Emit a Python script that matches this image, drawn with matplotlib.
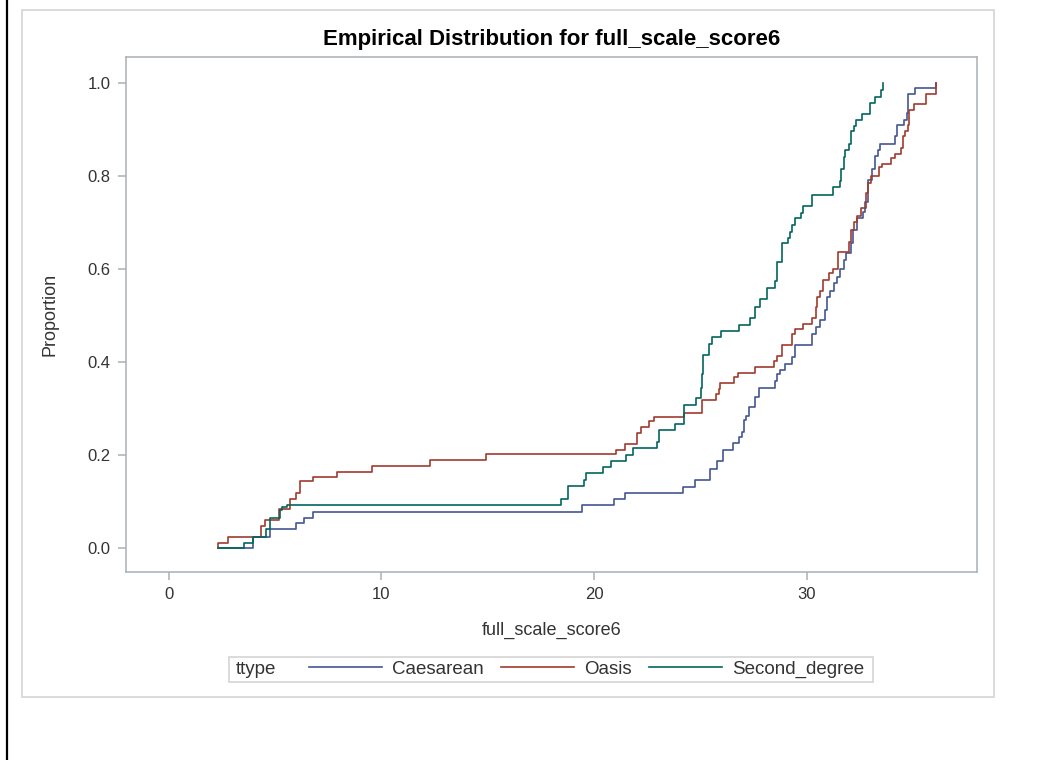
import matplotlib
matplotlib.use("Agg")
import matplotlib.pyplot as plt
from matplotlib.lines import Line2D
from matplotlib.patches import Rectangle

FONT = "Liberation Sans"
FONT_SIZE = 12
LEGEND_SIZE = 13.5

# step points (x, proportion after the step)
caes_x = [2.32, 3.97, 4.78, 6.01, 6.37, 6.79, 19.45, 20.94, 21.46, 24.2, 24.75, 25.46,
          25.77, 26.05, 26.53, 26.79, 26.95, 27.03, 27.15, 27.26, 27.58, 27.73, 28.52,
          28.6, 28.75, 28.99, 29.3, 29.46, 30.24, 30.45, 30.64, 30.87, 30.95, 31.1, 31.26,
          31.42, 31.55, 31.73, 31.86, 32.09, 32.17, 32.36, 32.63, 32.75, 32.9, 33.07,
          33.22, 33.33, 33.46, 34.13, 34.24, 34.59, 34.71, 34.78, 35.1, 36.05]
caes_y = [0.0, 0.024, 0.041, 0.053, 0.065, 0.078, 0.092, 0.105, 0.118, 0.13, 0.146, 0.169,
          0.186, 0.211, 0.225, 0.239, 0.25, 0.275, 0.283, 0.304, 0.325, 0.343, 0.358,
          0.374, 0.383, 0.396, 0.41, 0.437, 0.46, 0.475, 0.49, 0.512, 0.54, 0.553, 0.569,
          0.582, 0.6, 0.619, 0.635, 0.655, 0.684, 0.709, 0.723, 0.745, 0.791, 0.814,
          0.843, 0.856, 0.869, 0.885, 0.91, 0.92, 0.936, 0.976, 0.989, 1.0]

oasis_x = [2.32, 2.32, 2.79, 4.33, 4.55, 5.19, 5.69, 5.98, 6.2, 6.79, 7.92, 9.57, 12.28,
           14.92, 21.02, 21.44, 22.0, 22.2, 22.6, 22.8, 24.25, 25.07, 25.74, 25.85, 25.93,
           26.6, 26.76, 27.58, 28.44, 28.6, 28.83, 29.3, 29.46, 29.82, 30.24, 30.45, 30.5,
           30.64, 30.76, 31.03, 31.23, 31.45, 31.97, 32.09, 32.2, 32.36, 32.56, 32.8, 32.9,
           33.04, 33.38, 33.54, 33.96, 34.13, 34.43, 34.53, 34.6, 34.76, 34.82, 35.03,
           35.61, 36.05]
oasis_y = [0.0, 0.011, 0.023, 0.047, 0.06, 0.083, 0.105, 0.119, 0.143, 0.152, 0.164, 0.177,
           0.189, 0.202, 0.211, 0.224, 0.248, 0.261, 0.272, 0.282, 0.291, 0.318, 0.331,
           0.341, 0.354, 0.367, 0.377, 0.39, 0.401, 0.413, 0.437, 0.46, 0.47, 0.482, 0.494,
           0.519, 0.54, 0.553, 0.576, 0.591, 0.6, 0.636, 0.659, 0.684, 0.702, 0.713, 0.731,
           0.763, 0.784, 0.8, 0.82, 0.826, 0.838, 0.847, 0.86, 0.885, 0.896, 0.91, 0.942,
           0.955, 0.976, 1.0]

second_x = [2.32, 3.55, 3.97, 4.56, 4.78, 5.22, 5.35, 5.57, 18.43, 18.79, 19.54, 19.6,
            20.44, 20.8, 21.51, 21.82, 22.95, 23.03, 23.81, 24.25, 24.8, 25.02, 25.06,
            25.13, 25.38, 25.54, 25.98, 26.82, 27.31, 27.58, 27.81, 28.13, 28.52, 28.6,
            28.83, 29.1, 29.22, 29.3, 29.44, 29.73, 29.8, 30.24, 31.23, 31.54, 31.62,
            31.73, 31.81, 31.97, 32.08, 32.2, 32.33, 32.6, 32.96, 33.22, 33.49, 33.58]
second_y = [0.0, 0.011, 0.024, 0.04, 0.064, 0.082, 0.088, 0.092, 0.105, 0.133, 0.146, 0.161,
            0.174, 0.186, 0.2, 0.214, 0.227, 0.254, 0.267, 0.308, 0.322, 0.343, 0.374,
            0.415, 0.439, 0.454, 0.467, 0.48, 0.495, 0.519, 0.535, 0.558, 0.573, 0.616,
            0.655, 0.666, 0.68, 0.695, 0.709, 0.72, 0.735, 0.759, 0.777, 0.789, 0.814,
            0.84, 0.856, 0.869, 0.896, 0.907, 0.92, 0.933, 0.956, 0.97, 0.985, 1.0]

series = [
    ("Caesarean", caes_x, caes_y, "#445694"),
    ("Oasis", oasis_x, oasis_y, "#A23A2E"),
    ("Second_degree", second_x, second_y, "#01665E"),
]
x_ticks = [0, 10, 20, 30]
y_ticks = [0.0, 0.2, 0.4, 0.6, 0.8, 1.0]

W, H = 1043, 760
fig = plt.figure(figsize=(W / 100, H / 100), dpi=100)
plt.rcParams["font.family"] = [FONT, "DejaVu Sans"]

# page decorations
fig.add_artist(Line2D([7 / W, 7 / W], [0, 1], color="black", lw=1.6))
fig.add_artist(Rectangle((22 / W, 1 - 697 / H), 972 / W, 687 / H, transform=fig.transFigure,
                         fill=False, edgecolor="#d4d4d4", lw=1.2))

ax = fig.add_axes([126 / W, 1 - 572 / H, 851 / W, 515 / H])
for name, xs, ys, c in series:
    ax.step(xs, ys, where="post", color=c, lw=1.2, label=name)

ax.set_xlim(-2.0, 38.0)
ax.set_ylim(-0.052, 1.056)
ax.set_xticks(x_ticks)
ax.set_yticks(y_ticks)
ax.set_yticklabels([f"{v:.1f}" for v in y_ticks])
for s in ax.spines.values():
    s.set_color("#aab0b5")
    s.set_linewidth(1.1)
ax.tick_params(length=6, width=1.1, color="#aab0b5", labelsize=FONT_SIZE,
               labelcolor="#333333", pad=5)

ax.set_title("Empirical Distribution for full_scale_score6", fontsize=16, fontweight="bold",
             pad=9)
ax.set_xlabel("full_scale_score6", fontsize=13, color="#333333", labelpad=14)
ax.set_ylabel("Proportion", fontsize=13, color="#333333", labelpad=21)

# legend
fig.add_artist(Rectangle((229 / W, 1 - 682 / H), 644 / W, 25 / H, transform=fig.transFigure,
                         fill=False, edgecolor="#d4d4d4", lw=1.2))
fig.text(236 / W, 1 - 669.5 / H, "ttype", fontsize=LEGEND_SIZE, color="#333333",
         va="center", ha="left")
fig.legend(loc="center left", bbox_to_anchor=(309 / W, 1 - 669.5 / H), ncol=3,
           frameon=False, fontsize=LEGEND_SIZE, handlelength=3.9, handletextpad=0.55,
           columnspacing=0.9, borderpad=0, borderaxespad=0, labelcolor="#333333")

fig.savefig("out.png", dpi=100)
